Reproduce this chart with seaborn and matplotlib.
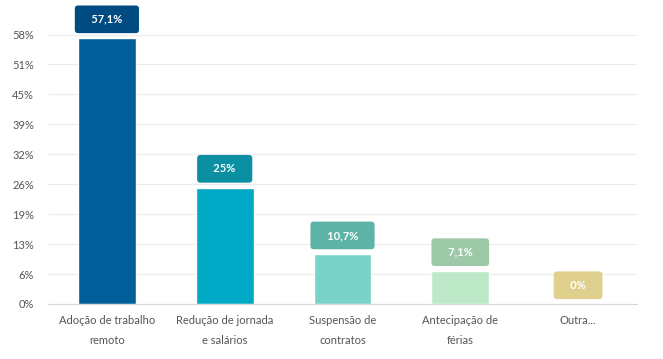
import numpy as np
import pandas as pd
import matplotlib
matplotlib.use("Agg")
import matplotlib.pyplot as plt
import seaborn as sns

categorias = ["Adoção de trabalho\nremoto", "Redução de jornada\ne salários",
              "Suspensão de\ncontratos", "Antecipação de\nférias", "Outra..."]
valores = [57.1, 25.0, 10.7, 7.1, 0.0]
rotulos = ["57,1%", "25%", "10,7%", "7,1%", "0%"]
cores_barra = ["#005f99", "#00a9c5", "#7ad3c8", "#bde9c9", "#e0d08e"]
cores_caixa = ["#004b82", "#0a8fa3", "#5db3a5", "#9dc9a8", "#e0d08e"]
ticks = np.linspace(0, 57.86, 10)
tick_labels = ["0%", "6%", "13%", "19%", "26%", "32%", "39%", "45%", "51%", "58%"]

df = pd.DataFrame({"cat": categorias, "val": valores})

sns.set_style("white")
plt.rcParams["font.family"] = ["Lato", "DejaVu Sans"]

fig = plt.figure(figsize=(6.63, 3.59), dpi=100)
ax = fig.add_axes([48 / 663, 1 - 304 / 359, 589 / 663, 299 / 359])

sns.barplot(data=df, x="cat", y="val", hue="cat", palette=cores_barra,
            legend=False, width=0.49, saturation=1, ax=ax)

ax.set_ylim(0, 64.2)
ax.set_xlim(-0.5, 4.5)
ax.set_yticks(ticks)
ax.set_yticklabels(tick_labels)
ax.yaxis.grid(True, color="#ebebeb", linewidth=0.8)
ax.set_axisbelow(True)
for s in ["left", "right", "top"]:
    ax.spines[s].set_visible(False)
ax.spines["bottom"].set_color("#cfd8dc")
ax.tick_params(axis="both", length=0, labelsize=8, labelcolor="#555555")
ax.tick_params(axis="y", pad=10)
ax.tick_params(axis="x", pad=8)
for lab in ax.get_xticklabels():
    lab.set_linespacing(2.0)
    lab.set_multialignment("center")
    lab.set_verticalalignment("top")
ax.set_xlabel("")
ax.set_ylabel("")

for i, (v, r) in enumerate(zip(valores, rotulos)):
    ax.annotate("   " + r + "   ", xy=(i, v), xytext=(0, 13.5), textcoords="offset points",
                ha="center", va="center", fontsize=8, fontweight="bold", color="white",
                bbox=dict(boxstyle="round,pad=0.75,rounding_size=0.3",
                          fc=cores_caixa[i], ec="none"))

fig.savefig("out.png", dpi=100)
